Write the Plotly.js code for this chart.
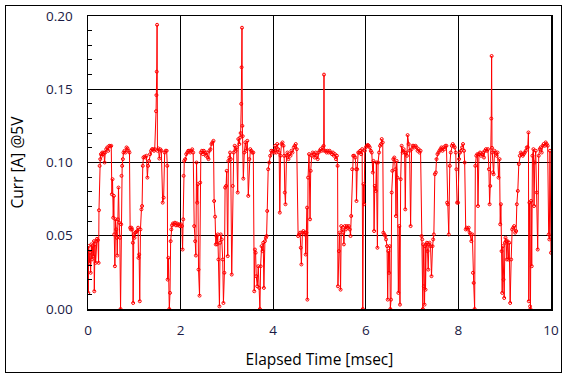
<!DOCTYPE html>
<html>
<head>
<meta charset="utf-8">
<script src="https://cdn.plot.ly/plotly-3.0.1.min.js"></script>
<style>
html,body{margin:0;padding:0;background:#fff;}
#wrap{position:relative;width:569px;height:380px;}
#chart{position:absolute;left:0;top:0;width:569px;height:380px;}
#frame{position:absolute;left:5px;top:5px;width:555px;height:366px;border:1.5px solid #000;pointer-events:none;}
</style>
</head>
<body>
<div id="wrap"><div id="chart"></div><div id="frame"></div></div>
<script>
// Elapsed time [msec]
const timeMs = [
0.000,0.007,0.014,0.029,0.043,0.057,0.072,0.086,0.100,0.115,0.129,0.136,0.151,0.165,0.179,0.194,0.215,0.229,0.237,0.251,
0.265,0.280,0.294,0.308,0.323,0.344,0.358,0.373,0.394,0.416,0.437,0.459,0.480,0.502,0.516,0.530,0.545,0.559,0.566,0.581,
0.595,0.609,0.624,0.631,0.645,0.659,0.674,0.688,0.703,0.717,0.724,0.738,0.753,0.767,0.789,0.810,0.832,0.853,0.875,0.896,
0.910,0.925,0.939,0.953,0.968,0.975,0.989,1.004,1.018,1.039,1.061,1.082,1.090,1.104,1.118,1.133,1.154,1.168,1.183,1.197,
1.219,1.240,1.262,1.283,1.297,1.319,1.341,1.362,1.384,1.405,1.427,1.441,1.470,1.478,1.485,1.492,1.500,1.520,1.541,1.563,
1.584,1.613,1.634,1.656,1.677,1.699,1.713,1.720,1.735,1.756,1.771,1.785,1.799,1.814,1.835,1.857,1.878,1.900,1.921,1.943,
1.964,1.986,2.007,2.029,2.043,2.057,2.065,2.079,2.100,2.122,2.143,2.165,2.186,2.208,2.229,2.251,2.272,2.294,2.315,2.330,
2.344,2.358,2.373,2.387,2.409,2.423,2.437,2.459,2.480,2.502,2.523,2.545,2.566,2.588,2.602,2.624,2.645,2.667,2.688,2.710,
2.724,2.745,2.760,2.774,2.788,2.803,2.817,2.839,2.853,2.867,2.889,2.910,2.925,2.946,2.961,2.982,2.996,3.018,3.032,3.054,
3.068,3.082,3.104,3.125,3.147,3.168,3.190,3.211,3.233,3.247,3.269,3.283,3.297,3.310,3.318,3.326,3.334,3.341,3.355,3.376,
3.398,3.419,3.441,3.462,3.484,3.505,3.527,3.548,3.570,3.591,3.606,3.620,3.634,3.656,3.677,3.699,3.713,3.728,3.749,3.771,
3.785,3.799,3.821,3.842,3.857,3.871,3.892,3.914,3.935,3.957,3.978,4.000,4.022,4.043,4.065,4.086,4.108,4.129,4.143,4.158,
4.179,4.201,4.222,4.237,4.251,4.265,4.287,4.308,4.330,4.351,4.373,4.394,4.416,4.444,4.466,4.487,4.509,4.538,4.559,4.581,
4.595,4.609,4.631,4.652,4.674,4.695,4.702,4.717,4.731,4.738,4.753,4.774,4.796,4.810,4.832,4.853,4.875,4.896,4.918,4.939,
4.961,4.982,5.004,5.025,5.047,5.068,5.090,5.097,5.104,5.133,5.154,5.176,5.197,5.219,5.240,5.269,5.290,5.312,5.333,5.355,
5.376,5.391,5.398,5.419,5.434,5.455,5.470,5.491,5.513,5.527,5.548,5.570,5.591,5.613,5.634,5.656,5.670,5.685,5.706,5.728,
5.749,5.771,5.792,5.799,5.814,5.835,5.857,5.878,5.900,5.921,5.935,5.950,5.964,5.978,6.000,6.022,6.043,6.065,6.086,6.108,
6.129,6.151,6.165,6.179,6.194,6.215,6.229,6.251,6.265,6.287,6.308,6.330,6.344,6.366,6.380,6.401,6.423,6.437,6.459,6.473,
6.487,6.502,6.516,6.530,6.545,6.559,6.573,6.595,6.616,6.638,6.652,6.667,6.681,6.703,6.724,6.738,6.753,6.774,6.796,6.817,
6.839,6.853,6.867,6.889,6.903,6.925,6.946,6.968,6.989,7.011,7.032,7.054,7.075,7.097,7.118,7.140,7.161,7.183,7.204,7.219,
7.233,7.240,7.254,7.269,7.283,7.290,7.305,7.319,7.333,7.348,7.362,7.376,7.398,7.419,7.441,7.455,7.470,7.491,7.513,7.527,
7.548,7.570,7.591,7.613,7.634,7.656,7.677,7.699,7.720,7.742,7.756,7.771,7.792,7.814,7.835,7.857,7.878,7.900,7.921,7.943,
7.957,7.971,7.993,8.014,8.036,8.057,8.079,8.100,8.122,8.136,8.158,8.179,8.201,8.222,8.244,8.265,8.280,8.301,8.315,8.330,
8.351,8.366,8.387,8.409,8.423,8.444,8.466,8.487,8.509,8.530,8.552,8.573,8.595,8.616,8.638,8.659,8.674,8.688,8.710,8.718,
8.726,8.731,8.746,8.760,8.781,8.803,8.824,8.846,8.867,8.889,8.903,8.918,8.932,8.946,8.961,8.975,8.989,9.004,9.018,9.032,
9.047,9.061,9.082,9.097,9.118,9.140,9.161,9.183,9.204,9.226,9.247,9.262,9.283,9.305,9.326,9.348,9.369,9.391,9.412,9.434,
9.455,9.477,9.498,9.513,9.520,9.534,9.548,9.556,9.570,9.584,9.599,9.620,9.634,9.649,9.670,9.692,9.713,9.735,9.756,9.778,
9.799,9.821,9.842,9.864,9.885,9.907,9.928,9.950,9.964,9.978,10.000
];
// Current [A] @5V
const currentA = [
0.0395,0.0110,0.0430,0.0315,0.0384,0.0247,0.0441,0.0338,0.0429,0.0361,0.0463,0.0121,0.0441,0.0315,0.0463,0.0479,0.0470,0.0315,0.0674,0.0977,
0.1023,0.1057,0.1046,0.1068,0.1057,0.1068,0.1000,0.1068,0.1091,0.1103,0.1080,0.1114,0.1110,0.1114,0.0783,0.0886,0.0623,0.0772,0.0509,0.0292,
0.0612,0.0543,0.0486,0.0365,0.0612,0.0829,0.0589,0.0486,0.0000,0.0578,0.0909,0.0977,0.1023,0.1068,0.1080,0.1068,0.1103,0.1096,0.1080,0.1068,
0.0555,0.0543,0.0555,0.0543,0.0452,0.0041,0.0509,0.0486,0.0521,0.0525,0.0532,0.0555,0.0349,0.0372,0.0053,0.0543,0.0680,0.0703,0.0977,0.1034,
0.1040,0.1034,0.1046,0.0897,0.0977,0.1011,0.1057,0.1080,0.1091,0.1090,0.1080,0.1091,0.1350,0.1460,0.1620,0.1940,0.1080,0.1096,0.1027,0.1090,
0.1080,0.0726,0.0760,0.1068,0.1080,0.1080,0.0977,0.0201,0.0349,0.0000,0.0110,0.0463,0.0543,0.0571,0.0584,0.0578,0.0589,0.0571,0.0584,0.0571,
0.0578,0.0566,0.0578,0.0566,0.0406,0.0612,0.0909,0.1011,0.1023,0.1057,0.1068,0.1080,0.1080,0.1068,0.1080,0.1090,0.1068,0.0566,0.0463,0.0365,
0.1000,0.0726,0.0852,0.0269,0.0091,0.0863,0.1068,0.1080,0.1057,0.1080,0.1068,0.1046,0.1068,0.1034,0.1023,0.1080,0.1091,0.1126,0.1137,0.1148,
0.0737,0.0630,0.0441,0.0498,0.0441,0.0509,0.0338,0.0018,0.0452,0.0509,0.0475,0.0338,0.0041,0.0247,0.0829,0.0840,0.0943,0.0361,0.1011,0.1034,
0.1068,0.1023,0.0235,0.0840,0.1068,0.1114,0.1080,0.1103,0.0795,0.1160,0.1126,0.1170,0.1201,0.1400,0.1650,0.1920,0.1250,0.1180,0.0890,0.1068,
0.1137,0.1080,0.1148,0.0772,0.1023,0.1091,0.1080,0.1068,0.1068,0.0121,0.0406,0.0384,0.0224,0.0155,0.0292,0.0144,0.0000,0.0292,0.0429,0.0395,
0.0452,0.0144,0.0463,0.0486,0.0498,0.0669,0.0954,0.1000,0.1046,0.1080,0.1068,0.1080,0.1068,0.1114,0.1068,0.1126,0.1091,0.1068,0.0658,0.1046,
0.1126,0.1137,0.1114,0.1046,0.0795,0.0715,0.1046,0.1068,0.1023,0.1057,0.1046,0.1080,0.1068,0.1103,0.1114,0.1126,0.1091,0.0498,0.0509,0.0521,
0.0418,0.0304,0.0521,0.0532,0.0509,0.0521,0.0372,0.0521,0.0692,0.0064,0.0897,0.1057,0.0612,0.0943,0.1046,0.1068,0.1057,0.1034,0.1068,0.1046,
0.1023,0.1068,0.1080,0.1091,0.1080,0.1103,0.1114,0.1600,0.1080,0.1080,0.1068,0.1080,0.1068,0.1080,0.1068,0.1057,0.1068,0.1046,0.1057,0.1023,
0.1046,0.0977,0.0155,0.0395,0.0521,0.0132,0.0566,0.0543,0.0521,0.0441,0.0566,0.0543,0.0566,0.0555,0.0566,0.0543,0.0498,0.0635,0.0954,0.1046,
0.1046,0.1034,0.0954,0.0737,0.0954,0.1068,0.1068,0.1080,0.1057,0.1091,0.0000,0.0852,0.0715,0.1080,0.1103,0.1114,0.1120,0.1114,0.1103,0.1080,
0.1068,0.0932,0.1011,0.0532,0.0840,0.0806,0.1000,0.0418,0.1000,0.1068,0.1114,0.1126,0.1160,0.1137,0.0521,0.0509,0.0498,0.0475,0.0429,0.0064,
0.0395,0.0247,0.0429,0.0000,0.0064,0.0795,0.0943,0.1023,0.1034,0.0954,0.0635,0.1011,0.0897,0.0110,0.0566,0.0030,0.0886,0.1114,0.1068,0.1091,
0.1068,0.0680,0.1068,0.1046,0.1187,0.1126,0.1080,0.0566,0.1091,0.1114,0.1114,0.1103,0.1114,0.1103,0.1080,0.1091,0.1068,0.1080,0.0498,0.0475,
0.0000,0.0441,0.0155,0.0030,0.0429,0.0132,0.0441,0.0452,0.0395,0.0269,0.0441,0.0452,0.0429,0.0224,0.0429,0.0475,0.0509,0.0920,0.0932,0.1023,
0.1057,0.1068,0.1080,0.1091,0.1103,0.1080,0.1103,0.1091,0.1114,0.1114,0.0726,0.0715,0.0509,0.0977,0.1068,0.1114,0.1126,0.1114,0.1103,0.1068,
0.0954,0.0726,0.0726,0.1023,0.1068,0.1080,0.1103,0.1126,0.1080,0.1000,0.0543,0.0555,0.0543,0.0555,0.0521,0.0509,0.0463,0.0509,0.0247,0.0178,
0.0000,0.0977,0.1046,0.1057,0.0703,0.1057,0.1068,0.1046,0.1057,0.1068,0.1034,0.1080,0.1091,0.1080,0.1091,0.0954,0.0715,0.0840,0.1300,0.1727,
0.1100,0.1068,0.0932,0.0920,0.1080,0.1068,0.1046,0.1068,0.0897,0.1023,0.0578,0.0715,0.0395,0.0110,0.0429,0.0201,0.0075,0.0452,0.0486,0.0463,
0.0338,0.0463,0.0338,0.0452,0.0041,0.0338,0.0543,0.0555,0.0566,0.0521,0.0532,0.0715,0.0806,0.0989,0.1046,0.1068,0.1057,0.1046,0.1057,0.1068,
0.1080,0.1103,0.1103,0.1205,0.0053,0.0726,0.0018,0.0000,0.0737,0.0292,0.1046,0.1091,0.0703,0.1000,0.1080,0.0795,0.0406,0.1046,0.1091,0.1103,
0.1068,0.1114,0.1126,0.1114,0.1137,0.1126,0.1114,0.0509,0.0475,0.1080,0.0384
];
const xTickVals = [0, 2, 4, 6, 8, 10];
const yTickVals = [0.00, 0.05, 0.10, 0.15, 0.20];
const xTitle = 'Elapsed Time [msec]';
const yTitle = 'Curr [A] @5V';

const fontFam = '"Open Sans", "DejaVu Sans", sans-serif';
const tickColor = '#1a1a44';

const trace = {
  x: timeMs,
  y: currentA,
  type: 'scatter',
  mode: 'lines+markers',
  line: {color: '#ff0000', width: 1},
  marker: {symbol: 'circle-open', size: 3, color: '#ff0000', line: {width: 1, color: '#ff0000'}},
  hoverinfo: 'skip',
  cliponaxis: true
};

const layout = {
  width: 569,
  height: 380,
  margin: {l: 88, r: 18, t: 16, b: 71, pad: 0},
  paper_bgcolor: '#ffffff',
  plot_bgcolor: '#ffffff',
  showlegend: false,
  font: {family: fontFam, color: '#000'},
  xaxis: {
    range: [0, 10],
    tickvals: xTickVals,
    ticktext: xTickVals.map(String),
    showgrid: true,
    gridcolor: '#000',
    gridwidth: 1,
    zeroline: false,
    showline: true,
    linecolor: '#000',
    linewidth: 1.5,
    mirror: true,
    ticks: '',
    ticklabelstandoff: 8,
    tickfont: {family: fontFam, size: 13.5, color: tickColor},
    title: {text: xTitle, font: {family: fontFam, size: 15.5, color: '#000'}, standoff: 16}
  },
  yaxis: {
    range: [0, 0.2],
    tickvals: yTickVals,
    ticktext: yTickVals.map(v => v.toFixed(2)),
    showgrid: true,
    gridcolor: '#000',
    gridwidth: 1,
    zeroline: false,
    showline: true,
    linecolor: '#000',
    linewidth: 1.5,
    mirror: true,
    ticks: 'inside',
    ticklen: 4,
    tickcolor: '#000',
    ticklabelstandoff: 11,
    minor: {dtick: 0.01, ticks: 'inside', ticklen: 4, tickcolor: '#000', showgrid: false},
    tickfont: {family: fontFam, size: 13.5, color: tickColor},
    title: {text: yTitle, font: {family: fontFam, size: 15.5, color: '#000'}, standoff: 18}
  }
};

Plotly.newPlot('chart', [trace], layout, {staticPlot: true, displayModeBar: false});
</script>
</body>
</html>
